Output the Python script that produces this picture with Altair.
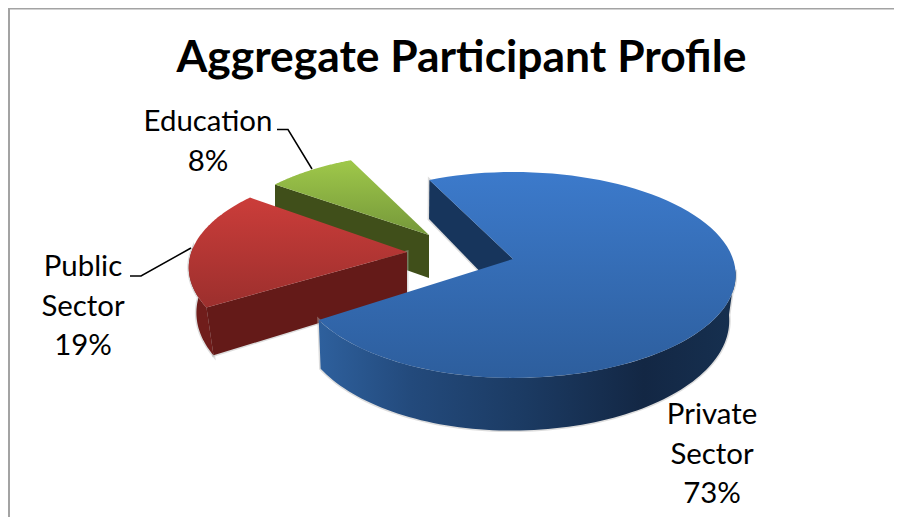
import numpy as np
import altair as alt

names = ["Private Sector", "Public Sector", "Education"]
shares = [73, 19, 8]
label_text = ["Private\nSector\n73%", "Public\nSector\n19%", "Education\n8%"]
title_text = "Aggregate Participant Profile"

FONT = "Lato"
W, H = 886, 509
OX, OY = 8, 8  # page margin

# view geometry of the tilted pie
START = 334.5
A, B, K = 220.0, 100.5, 0.155
SLICES = [
    dict(ax=513, ay=259, s=1.0, rot=-1.0, lx=0.97, shrink=0.02, dx=-2, depth=44.5),
    dict(ax=407, ay=252, s=0.98, rot=1.5, lx=1.0, shrink=0.035, dx=0, depth=44),
    dict(ax=429, ay=235, s=0.94, rot=0.0, lx=1.0, shrink=0.0, dx=0, depth=43),
]


def top(sl, theta):
    t = np.radians(theta + sl["rot"])
    X, Y = np.sin(t), -np.cos(t)
    w = 1 - K * Y
    side = sl["lx"] if X < 0 else 1.0
    return sl["ax"] + A * sl["s"] * side * X / w - OX, sl["ay"] + B * sl["s"] * Y / w - OY, w


def bottom(sl, theta):
    x, y, w = top(sl, theta)
    ax = sl["ax"] - OX
    return x + (ax - x) * sl["shrink"] + sl["dx"], y + sl["depth"] / w


def apex(sl, low=False):
    return [sl["ax"] - OX + (sl["dx"] if low else 0), sl["ay"] - OY + (sl["depth"] if low else 0)]


def feature(kind, coords):
    geometry = {"type": kind, "coordinates": coords}
    return {"type": "Feature", "properties": {}, "geometry": geometry}


def poly(points):
    ring = [list(map(float, p[:2])) for p in points]
    ring.append(ring[0])
    return feature("Polygon", [ring])


def arc(sl, t0, t1, fn=top):
    return [fn(sl, t) for t in np.linspace(t0, t1, 90)]


def grad(stops, horizontal=False):
    return alt.LinearGradient(
        gradient="linear",
        stops=[alt.GradientStop(color=c, offset=o) for o, c in stops],
        x1=0, y1=0, x2=1 if horizontal else 0, y2=0 if horizontal else 1,
    )


def shape(feat, fill):
    return alt.Chart(alt.Data(values=[feat])).mark_geoshape(fill=fill, strokeWidth=0)


def halo(feat):
    return alt.Chart(alt.Data(values=[feat])).mark_geoshape(
        filled=False, stroke="#b5b5b5", strokeWidth=3, opacity=0.45
    )


# slice angles from the shares
edges = START + np.cumsum([0] + [v * 3.6 for v in shares])
blue_a, red_a, green_a = [(edges[i], edges[i + 1]) for i in range(3)]
blue, red, green = SLICES

layers = []

# green
g_t = arc(green, *green_a)
layers.append(shape(poly(
    [apex(green), g_t[0], bottom(green, green_a[0]), apex(green, True)]), "#404f1a"))
layers.append(shape(poly([apex(green)] + g_t),
                    grad([(0, "#9fc84a"), (1, "#75983a")])))

# red
r_t = arc(red, *red_a)
r_sil = red_a[0] + 34
r_wall = poly(arc(red, red_a[0], r_sil) + arc(red, r_sil, red_a[0], bottom))
r_front = poly([apex(red), r_t[0], bottom(red, red_a[0]), apex(red, True)])
layers.append(halo(r_wall))
layers.append(halo(r_front))
layers.append(shape(r_wall, "#701d1b"))
layers.append(shape(r_front, "#641a18"))
layers.append(shape(poly([apex(red)] + r_t),
                    grad([(0, "#cb3d3a"), (1, "#9c2f2d")])))

# blue
b_t = arc(blue, *blue_a)
b_inner = poly([apex(blue), b_t[0], bottom(blue, blue_a[0]), apex(blue, True)])
b_wall = poly(arc(blue, 457, blue_a[1]) + arc(blue, blue_a[1], 457, bottom))
layers.append(halo(b_inner))
layers.append(halo(b_wall))
layers.append(shape(b_inner, "#17355c"))
layers.append(shape(b_wall, grad(
    [(0, "#2e609d"), (0.22, "#234a7c"), (0.5, "#1b3a62"), (0.78, "#132744"), (1, "#163050")],
    horizontal=True)))
layers.append(shape(poly([apex(blue)] + b_t),
                    grad([(0, "#3c7acb"), (1, "#2d5e9d")])))

# frame
frame = feature("LineString", [[1, H + 20], [1, 0.5], [W + 20, 0.5]])
layers.append(alt.Chart(alt.Data(values=[frame])).mark_geoshape(
    filled=False, stroke="#a3a3a3", strokeWidth=2))

# leader lines
leaders = [
    [[277 - OX, 129.5 - OY], [288 - OX, 129.5 - OY], [312 - OX, 169 - OY]],
    [[130 - OX, 276 - OY], [141 - OX, 276 - OY], [191 - OX, 248 - OY]],
]
for line in leaders:
    layers.append(alt.Chart(alt.Data(values=[feature("LineString", line)])).mark_geoshape(
        filled=False, stroke="#000000", strokeWidth=1.5))

# labels
label_pos = [(712, 424), (83, 276), (208, 131)]
for txt, (px, py) in zip(label_text, label_pos):
    layers.append(
        alt.Chart(alt.Data(values=[{"label": txt}]))
        .mark_text(font=FONT, fontSize=29.4, lineBreak="\n", lineHeight=39.5,
                   align="center", baseline="alphabetic", color="#000000")
        .encode(text="label:N", x=alt.value(px - OX), y=alt.value(py - OY))
    )

chart = (
    alt.layer(*layers)
    .project(type="identity", scale=1, translate=[0, 0])
    .properties(
        width=W, height=H,
        padding=0,
        autosize=alt.AutoSizeParams(type="none"),
        background="#ffffff",
        title=alt.TitleParams(
            text=title_text, font=FONT, fontSize=44.4, fontWeight="bold", color="#000000",
            anchor="middle", baseline="alphabetic", dy=112, dx=10.5,
        ),
    )
    .configure_view(stroke=None)
)

chart.save("out.html", embed_options={"renderer": "svg", "actions": False})
